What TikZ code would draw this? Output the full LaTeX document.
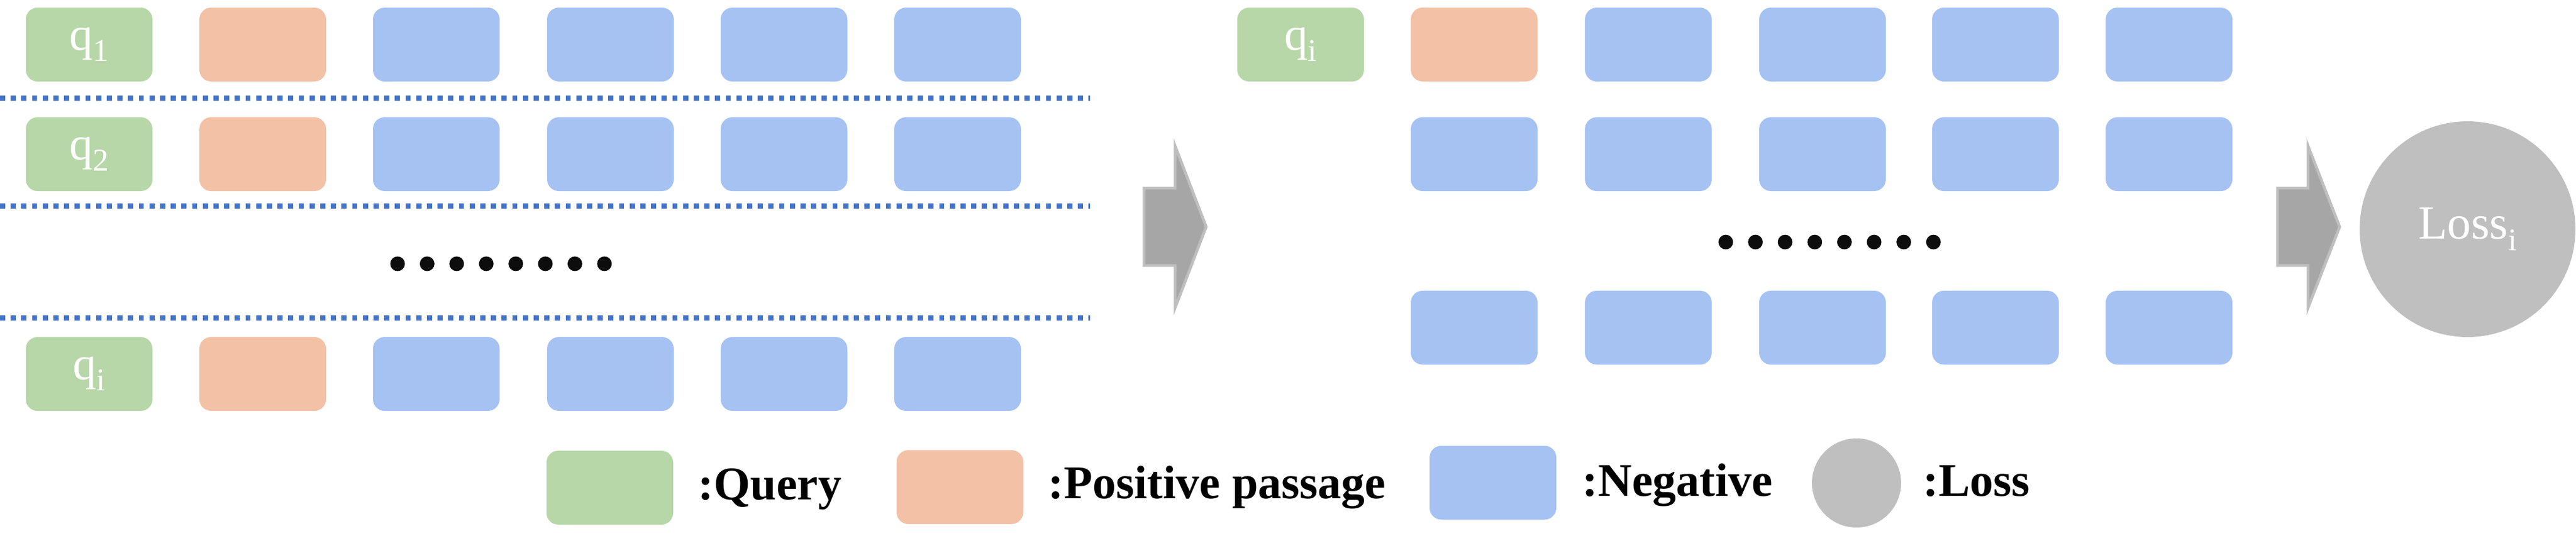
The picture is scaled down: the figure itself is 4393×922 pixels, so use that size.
\documentclass[tikz,border=0pt]{standalone}
\usepackage{fontspec}
\setmainfont{Liberation Serif}
\definecolor{qgreen}{HTML}{B7D7A8}
\definecolor{ppink}{HTML}{F3C1A6}
\definecolor{nblue}{HTML}{A5C2F3}
\definecolor{sepblue}{HTML}{4472C4}
\definecolor{dotblack}{HTML}{0D0D0D}
\definecolor{arrowgray}{HTML}{A6A6A6}
\definecolor{arrowedge}{HTML}{BFBFBF}
\definecolor{lossgray}{HTML}{BFBFBF}
\newcommand{\subtxt}[1]{\raisebox{-0.24em}{\fontsize{13.5}{14}\selectfont #1}}
\tikzset{
  cell/.style={rectangle, rounded corners=5pt, minimum width=54pt, minimum height=31.5pt, inner sep=0pt, draw=none},
  qcell/.style={cell, fill=qgreen, text=white, font=\fontsize{20}{24}\selectfont},
  pcell/.style={cell, fill=ppink},
  ncell/.style={cell, fill=nblue},
  sepline/.style={draw=sepblue, line width=2.25pt, dash pattern=on 2.2pt off 2.35pt},
  dotmark/.style={circle, fill=dotblack, inner sep=0pt, minimum size=6.25pt},
  bigarrow/.style={fill=arrowgray, draw=arrowedge, line width=1.2pt, line join=miter},
  lossnode/.style={circle, fill=lossgray, inner sep=0pt, text=white},
  legtext/.style={anchor=base west, inner sep=0pt, font=\fontsize{20}{24}\selectfont\bfseries}
}
\begin{document}
\begin{tikzpicture}[x=0.25pt,y=-0.25pt]
\useasboundingbox (0,0) rectangle (4393,922);

% ---- left section ----
\foreach \r/\y/\s in {1/76/1,2/263/2,3/638/i}{
  \node[qcell] (lq\r) at (152,\y) {q\subtxt{\s}};
  \node[pcell] (lp\r) at (448,\y) {};
  \foreach \c/\x in {1/744,2/1041,3/1337,4/1633}{
    \node[ncell] (ln\r\c) at (\x,\y) {};
  }
}
\foreach \k/\y in {1/167.5,2/351.5,3/542.5}{
  \coordinate (sa\k) at (0,\y);
  \coordinate (sb\k) at (1859,\y);
  \draw[sepline] (sa\k) -- (sb\k);
}
\foreach \k in {0,...,7}{
  \node[dotmark] (ld\k) at ({678+\k*50.4},450) {};
}

% ---- arrow 1 ----
\draw[bigarrow] (1951,321) -- (2004,321) -- (2004,249) -- (2057,387) -- (2004,525) -- (2004,453) -- (1951,453) -- cycle;

% ---- right section ----
\node[qcell] (rq) at (2218,76) {q\subtxt{i}};
\node[pcell] (rp) at (2514,76) {};
\foreach \c/\x in {1/2811,2/3108,3/3403,4/3699}{
  \node[ncell] (rn1\c) at (\x,76) {};
}
\foreach \r/\y in {2/263,3/559}{
  \foreach \c/\x in {0/2514,1/2811,2/3108,3/3403,4/3699}{
    \node[ncell] (rn\r\c) at (\x,\y) {};
  }
}
\foreach \k in {0,...,7}{
  \node[dotmark] (rd\k) at ({2943+\k*50.6},413) {};
}

% ---- arrow 2 ----
\draw[bigarrow] (3884,321) -- (3936,321) -- (3936,249) -- (3990,387) -- (3936,525) -- (3936,453) -- (3884,453) -- cycle;

% ---- loss ----
\node[lossnode, minimum size=92pt, font=\fontsize{20.25}{24}\selectfont] (loss) at (4208,391) {Loss\subtxt{i}};

% ---- legend ----
\node[cell, fill=qgreen] (lgq) at (1040,832) {};
\node[legtext] (lgqt) at (1190,852) {:Query};
\node[cell, fill=ppink] (lgp) at (1637,831) {};
\node[legtext] (lgpt) at (1787,850) {:Positive passage};
\node[cell, fill=nblue] (lgn) at (2546,823.5) {};
\node[legtext] (lgnt) at (2698,846) {:Negative};
\node[lossnode, minimum size=38pt] (lgl) at (3166,824) {};
\node[legtext] (lglt) at (3279,846) {:Loss};
\end{tikzpicture}
\end{document}
